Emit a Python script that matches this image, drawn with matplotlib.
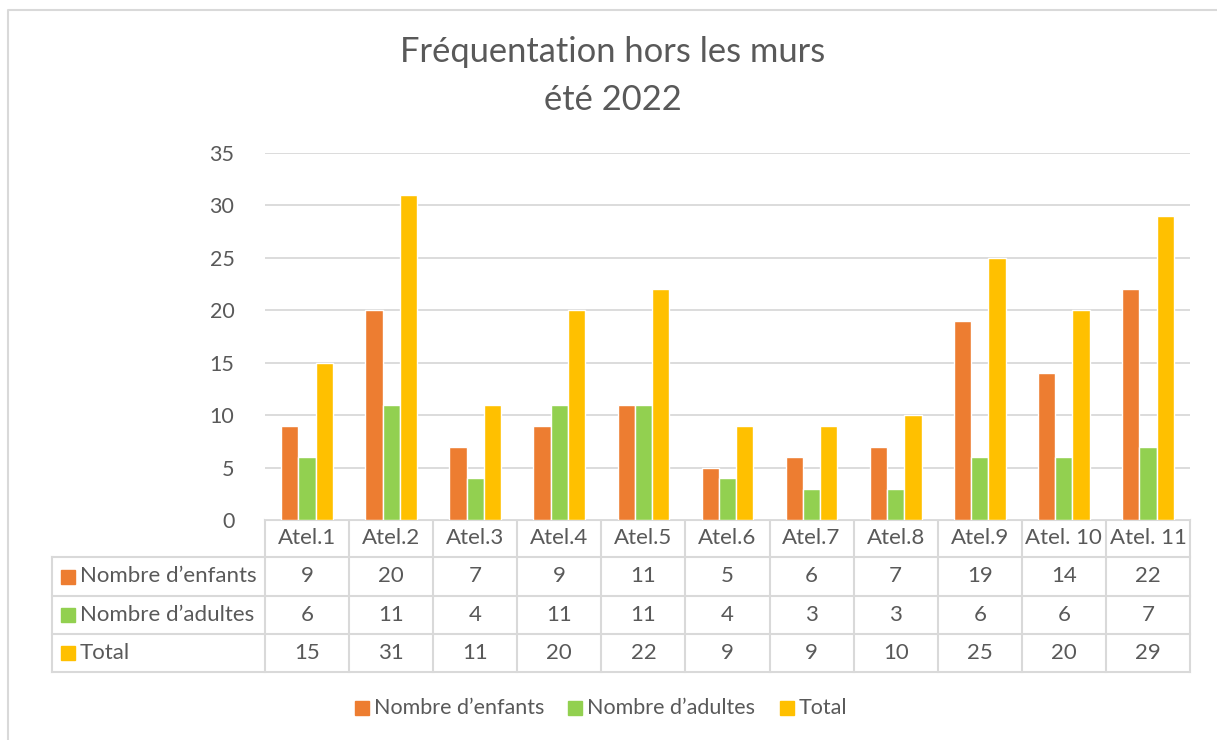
import matplotlib
matplotlib.use('Agg')
import matplotlib.pyplot as plt
from matplotlib.patches import Rectangle
import numpy as np

plt.rcParams['font.family'] = ['Lato', 'DejaVu Sans']

# data
ateliers = ['Atel.1', 'Atel.2', 'Atel.3', 'Atel.4', 'Atel.5', 'Atel.6',
            'Atel.7', 'Atel.8', 'Atel.9', 'Atel. 10', 'Atel. 11']
enfants = [9, 20, 7, 9, 11, 5, 6, 7, 19, 14, 22]
adultes = [6, 11, 4, 11, 11, 4, 3, 3, 6, 6, 7]
total = [15, 31, 11, 20, 22, 9, 9, 10, 25, 20, 29]
series_names = ['Nombre d\u2019enfants', 'Nombre d\u2019adultes', 'Total']
colors = ['#ED7D31', '#92D050', '#FFC000']

W, H = 1217, 740
txt = '#595959'
grid_c = '#D9D9D9'

fig = plt.figure(figsize=(W / 100, H / 100), dpi=100)

# overlay in pixel coords for frame, table and legend
ov = fig.add_axes([0, 0, 1, 1])
ov.set_xlim(0, W)
ov.set_ylim(H, 0)
ov.axis('off')

# chart frame
ov.plot([7.5, 7.5, W + 5], [H + 5, 9.5, 9.5], color='#D9D9D9', lw=1.5)

# plot area
x0, x1 = 265, 1190
y0, y1 = 520, 153
ax = fig.add_axes([x0 / W, 1 - y0 / H, (x1 - x0) / W, (y0 - y1) / H])
n = len(ateliers)
x = np.arange(n)
bw = 0.205
data = [enfants, adultes, total]
for i, vals in enumerate(data):
    ax.bar(x + (i - 1) * bw, vals, width=bw, color=colors[i],
           edgecolor='white', linewidth=1, zorder=3)
ax.set_xlim(-0.5, n - 0.5)
ax.set_ylim(0, 35)
ax.set_yticks(range(0, 36, 5))
ax.yaxis.grid(True, color=grid_c, lw=1.3, zorder=0)
ax.set_xticks([])
for s in ax.spines.values():
    s.set_visible(False)
ax.tick_params(axis='y', length=0, pad=22, labelsize=15.5, labelcolor=txt)

# title
ov.text(613, 52, 'Fr\u00e9quentation hors les murs', ha='center', va='center',
        fontsize=24.8, color=txt)
ov.text(613, 100, '\u00e9t\u00e9 2022', ha='center', va='center',
        fontsize=24.8, color=txt)

# data table
cw = (x1 - x0) / n
rows = [520, 557, 596, 634, 672]
lc = '#D9D9D9'
lw = 1.5
tl = 52
# horizontal lines
ov.plot([x0, x1], [rows[0], rows[0]], color=lc, lw=lw)
for r in rows[1:]:
    ov.plot([tl, x1], [r, r], color=lc, lw=lw)
# vertical lines
for j in range(n + 1):
    ov.plot([x0 + j * cw] * 2, [rows[0], rows[-1]], color=lc, lw=lw)
ov.plot([tl, tl], [rows[1], rows[-1]], color=lc, lw=lw)

fs = 16
for j, lab in enumerate(ateliers):
    ov.text(x0 + (j + 0.5) * cw, (rows[0] + rows[1]) / 2, lab, ha='center',
            va='center', fontsize=fs, color=txt)
for i, vals in enumerate(data):
    yc = (rows[i + 1] + rows[i + 2]) / 2
    ov.add_patch(Rectangle((61, yc - 7), 14, 14, color=colors[i]))
    ov.text(80, yc, series_names[i], ha='left', va='center', fontsize=fs,
            color=txt)
    for j, v in enumerate(vals):
        ov.text(x0 + (j + 0.5) * cw, yc, str(v), ha='center', va='center',
                fontsize=fs, color=txt)

# legend
leg_x = [355, 568, 780]
for i in range(3):
    ov.add_patch(Rectangle((leg_x[i], 701), 14, 14, color=colors[i]))
    ov.text(leg_x[i] + 19, 708, series_names[i], ha='left', va='center',
            fontsize=15.5, color=txt)

fig.savefig('out.png', dpi=100)
